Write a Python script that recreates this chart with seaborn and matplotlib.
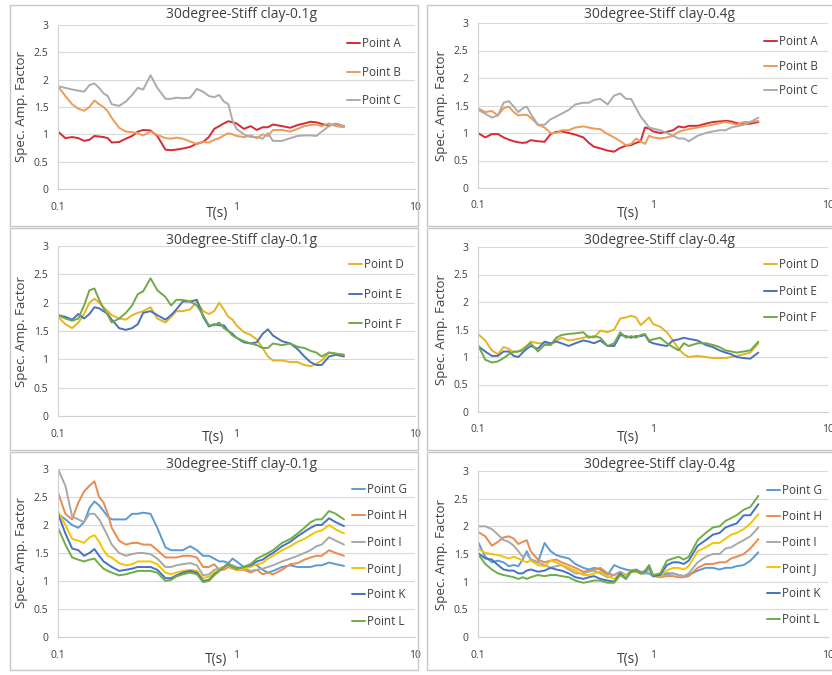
import pandas as pd
import seaborn as sns
import matplotlib.pyplot as plt
from matplotlib.patches import Rectangle

# period axis (s) shared by all curves
T = [0.1, 0.11, 0.12, 0.13, 0.14, 0.15, 0.16, 0.17, 0.18, 0.19,
     0.2, 0.22, 0.24, 0.26, 0.28, 0.3, 0.33, 0.36, 0.4, 0.43, 0.46,
     0.5, 0.55, 0.6, 0.65, 0.7, 0.75, 0.8, 0.85, 0.9, 0.95,
     1.0, 1.1, 1.2, 1.3, 1.4, 1.5, 1.6, 1.8,
     2.0, 2.2, 2.4, 2.6, 2.8, 3.0, 3.3, 3.6, 4.0]

# row 1, 0.1g
TL_A = [1.05, 0.93, 0.95, 0.93, 0.88, 0.90, 0.97, 0.96, 0.95, 0.93,
        0.85, 0.86, 0.92, 0.97, 1.05, 1.08, 1.07, 0.97, 0.72, 0.71, 0.72,
        0.74, 0.77, 0.83, 0.86, 0.95, 1.10, 1.15, 1.20, 1.24, 1.22,
        1.20, 1.10, 1.15, 1.08, 1.13, 1.13, 1.18, 1.15,
        1.12, 1.17, 1.20, 1.23, 1.22, 1.19, 1.16, 1.19, 1.15]
TL_B = [1.88, 1.70, 1.55, 1.47, 1.43, 1.50, 1.62, 1.55, 1.50, 1.42,
        1.30, 1.12, 1.05, 1.04, 1.02, 0.98, 1.05, 0.99, 0.93, 0.92, 0.94,
        0.92, 0.87, 0.82, 0.86, 0.85, 0.90, 0.93, 0.98, 1.02, 1.00,
        0.97, 0.95, 0.98, 0.93, 1.00, 0.97, 1.08, 1.08,
        1.05, 1.10, 1.15, 1.17, 1.18, 1.15, 1.20, 1.15, 1.13]
TL_C = [1.88, 1.85, 1.82, 1.80, 1.78, 1.90, 1.93, 1.85, 1.75, 1.70,
        1.55, 1.52, 1.60, 1.72, 1.85, 1.82, 2.08, 1.85, 1.65, 1.65, 1.67,
        1.66, 1.67, 1.83, 1.78, 1.70, 1.68, 1.72, 1.60, 1.55, 1.25,
        1.10, 1.00, 0.95, 0.95, 0.92, 1.02, 0.88, 0.88,
        0.93, 0.97, 0.98, 0.98, 0.97, 1.05, 1.15, 1.20, 1.15]

# row 1, 0.4g
TR_A = [1.00, 0.92, 0.98, 0.98, 0.92, 0.88, 0.85, 0.83, 0.82, 0.83,
        0.87, 0.85, 0.84, 0.98, 1.02, 1.03, 1.00, 0.97, 0.92, 0.82, 0.75,
        0.72, 0.68, 0.66, 0.73, 0.77, 0.78, 0.82, 0.85, 1.10, 1.08,
        1.03, 1.00, 1.02, 1.05, 1.12, 1.10, 1.13, 1.13,
        1.17, 1.20, 1.21, 1.22, 1.21, 1.18, 1.16, 1.17, 1.20]
TR_B = [1.45, 1.38, 1.40, 1.32, 1.45, 1.48, 1.38, 1.32, 1.33, 1.33,
        1.28, 1.15, 1.10, 1.00, 1.00, 1.05, 1.05, 1.10, 1.12, 1.10, 1.08,
        1.07, 0.98, 0.92, 0.85, 0.78, 0.80, 0.90, 0.85, 0.80, 0.95,
        0.92, 0.90, 0.92, 0.95, 1.02, 1.05, 1.07, 1.10,
        1.13, 1.15, 1.18, 1.20, 1.18, 1.15, 1.20, 1.20, 1.22]
TR_C = [1.42, 1.35, 1.28, 1.32, 1.55, 1.58, 1.48, 1.38, 1.45, 1.48,
        1.35, 1.15, 1.15, 1.25, 1.30, 1.35, 1.42, 1.52, 1.55, 1.55, 1.60,
        1.62, 1.52, 1.68, 1.72, 1.62, 1.62, 1.45, 1.30, 1.20, 1.10,
        1.08, 1.05, 1.00, 0.95, 0.90, 0.90, 0.85, 0.95,
        1.00, 1.03, 1.05, 1.05, 1.10, 1.12, 1.15, 1.20, 1.28]

# row 2, 0.1g
ML_D = [1.75, 1.62, 1.55, 1.65, 1.80, 2.00, 2.07, 2.00, 1.92, 1.85,
        1.78, 1.72, 1.70, 1.78, 1.82, 1.85, 1.92, 1.72, 1.65, 1.75, 1.85,
        1.85, 1.88, 2.02, 1.85, 1.80, 1.85, 2.00, 1.88, 1.75, 1.70,
        1.60, 1.48, 1.43, 1.35, 1.20, 1.05, 0.98, 0.98,
        0.95, 0.95, 0.90, 0.88, 0.92, 0.98, 1.12, 1.10, 1.08]
ML_E = [1.78, 1.75, 1.70, 1.80, 1.72, 1.80, 1.92, 1.90, 1.85, 1.80,
        1.70, 1.55, 1.52, 1.55, 1.62, 1.82, 1.85, 1.78, 1.70, 1.78, 1.88,
        2.02, 2.02, 2.05, 1.75, 1.58, 1.62, 1.60, 1.60, 1.50, 1.45,
        1.38, 1.30, 1.28, 1.30, 1.45, 1.53, 1.42, 1.32,
        1.28, 1.18, 1.05, 0.95, 0.90, 0.90, 1.05, 1.08, 1.05]
ML_F = [1.78, 1.72, 1.68, 1.72, 1.95, 2.22, 2.25, 2.05, 1.90, 1.78,
        1.65, 1.72, 1.82, 1.95, 2.15, 2.20, 2.43, 2.22, 2.10, 1.95, 2.05,
        2.05, 2.02, 1.95, 1.78, 1.60, 1.60, 1.65, 1.55, 1.50, 1.42,
        1.38, 1.32, 1.28, 1.25, 1.20, 1.20, 1.28, 1.25,
        1.28, 1.22, 1.20, 1.15, 1.12, 1.05, 1.12, 1.10, 1.08]

# row 2, 0.4g
MR_D = [1.42, 1.30, 1.12, 1.05, 1.18, 1.15, 1.08, 1.10, 1.15, 1.20,
        1.28, 1.25, 1.25, 1.22, 1.30, 1.35, 1.30, 1.32, 1.35, 1.38, 1.35,
        1.48, 1.45, 1.50, 1.70, 1.72, 1.75, 1.72, 1.58, 1.65, 1.72,
        1.60, 1.55, 1.45, 1.30, 1.15, 1.05, 1.00, 1.02,
        1.00, 0.98, 0.98, 0.98, 1.00, 1.02, 1.05, 1.08, 1.25]
MR_E = [1.20, 1.10, 1.02, 1.02, 1.10, 1.10, 1.02, 1.00, 1.08, 1.15,
        1.20, 1.15, 1.28, 1.25, 1.28, 1.25, 1.20, 1.25, 1.30, 1.28, 1.25,
        1.30, 1.20, 1.20, 1.40, 1.38, 1.35, 1.38, 1.38, 1.40, 1.28,
        1.25, 1.22, 1.20, 1.30, 1.32, 1.35, 1.33, 1.30,
        1.22, 1.18, 1.12, 1.08, 1.05, 1.00, 0.98, 0.97, 1.08]
MR_F = [1.22, 0.95, 0.90, 0.92, 0.98, 1.05, 1.10, 1.10, 1.12, 1.20,
        1.25, 1.10, 1.22, 1.22, 1.35, 1.40, 1.42, 1.43, 1.45, 1.35, 1.38,
        1.35, 1.20, 1.25, 1.45, 1.35, 1.38, 1.35, 1.40, 1.42, 1.30,
        1.32, 1.35, 1.25, 1.18, 1.12, 1.25, 1.20, 1.25,
        1.25, 1.22, 1.18, 1.12, 1.10, 1.08, 1.10, 1.12, 1.28]

# row 3, 0.1g
BL_G = [2.20, 2.10, 2.00, 1.95, 2.05, 2.30, 2.42, 2.35, 2.25, 2.15,
        2.10, 2.10, 2.10, 2.20, 2.20, 2.22, 2.20, 1.95, 1.60, 1.55, 1.55,
        1.55, 1.62, 1.55, 1.45, 1.45, 1.40, 1.35, 1.35, 1.32, 1.40,
        1.35, 1.25, 1.30, 1.28, 1.20, 1.15, 1.18, 1.25,
        1.28, 1.25, 1.25, 1.25, 1.28, 1.28, 1.33, 1.30, 1.27]
BL_H = [2.58, 2.20, 2.10, 2.40, 2.60, 2.70, 2.78, 2.50, 2.40, 2.20,
        1.95, 1.72, 1.65, 1.68, 1.68, 1.65, 1.65, 1.55, 1.42, 1.42, 1.42,
        1.45, 1.45, 1.42, 1.25, 1.25, 1.30, 1.20, 1.20, 1.25, 1.22,
        1.20, 1.20, 1.15, 1.20, 1.12, 1.15, 1.12, 1.20,
        1.30, 1.32, 1.38, 1.42, 1.45, 1.45, 1.55, 1.50, 1.45]
BL_I = [3.00, 2.70, 2.15, 2.10, 2.05, 2.20, 2.20, 2.10, 1.95, 1.80,
        1.65, 1.50, 1.45, 1.48, 1.50, 1.50, 1.48, 1.40, 1.25, 1.25, 1.28,
        1.30, 1.32, 1.28, 1.10, 1.12, 1.20, 1.22, 1.25, 1.30, 1.28,
        1.25, 1.22, 1.18, 1.20, 1.22, 1.25, 1.28, 1.35,
        1.40, 1.45, 1.50, 1.55, 1.62, 1.65, 1.78, 1.72, 1.65]
BL_J = [2.25, 2.00, 1.75, 1.72, 1.68, 1.78, 1.82, 1.70, 1.55, 1.45,
        1.42, 1.32, 1.28, 1.30, 1.35, 1.35, 1.35, 1.30, 1.15, 1.12, 1.15,
        1.18, 1.20, 1.18, 1.05, 1.08, 1.15, 1.20, 1.25, 1.28, 1.22,
        1.20, 1.22, 1.25, 1.30, 1.32, 1.40, 1.45, 1.55,
        1.62, 1.70, 1.75, 1.82, 1.88, 1.90, 2.00, 1.92, 1.85]
BL_K = [2.20, 1.85, 1.58, 1.55, 1.45, 1.50, 1.57, 1.45, 1.35, 1.30,
        1.25, 1.18, 1.20, 1.22, 1.25, 1.25, 1.25, 1.20, 1.05, 1.05, 1.10,
        1.15, 1.18, 1.15, 1.00, 1.02, 1.12, 1.18, 1.25, 1.30, 1.25,
        1.22, 1.25, 1.28, 1.35, 1.38, 1.45, 1.50, 1.62,
        1.70, 1.80, 1.88, 1.95, 2.00, 2.00, 2.12, 2.05, 1.98]
BL_L = [1.95, 1.65, 1.42, 1.38, 1.35, 1.38, 1.40, 1.30, 1.22, 1.18,
        1.15, 1.10, 1.12, 1.15, 1.18, 1.18, 1.18, 1.15, 1.00, 1.02, 1.08,
        1.12, 1.15, 1.12, 0.98, 1.00, 1.10, 1.18, 1.25, 1.32, 1.25,
        1.22, 1.25, 1.30, 1.40, 1.45, 1.50, 1.55, 1.68,
        1.75, 1.85, 1.95, 2.05, 2.10, 2.10, 2.25, 2.20, 2.10]

# row 3, 0.4g
BR_G = [1.72, 1.45, 1.35, 1.38, 1.35, 1.28, 1.30, 1.28, 1.40, 1.55,
        1.40, 1.35, 1.70, 1.55, 1.48, 1.45, 1.42, 1.32, 1.25, 1.22, 1.25,
        1.22, 1.12, 1.30, 1.25, 1.22, 1.20, 1.22, 1.18, 1.15, 1.15,
        1.10, 1.12, 1.15, 1.15, 1.12, 1.10, 1.12, 1.20,
        1.25, 1.25, 1.22, 1.25, 1.25, 1.28, 1.30, 1.38, 1.53]
BR_H = [1.90, 1.82, 1.65, 1.72, 1.80, 1.82, 1.78, 1.68, 1.72, 1.75,
        1.55, 1.40, 1.35, 1.38, 1.40, 1.35, 1.30, 1.25, 1.18, 1.20, 1.22,
        1.25, 1.15, 1.12, 1.18, 1.10, 1.18, 1.20, 1.15, 1.15, 1.25,
        1.10, 1.08, 1.10, 1.10, 1.08, 1.08, 1.10, 1.25,
        1.32, 1.32, 1.35, 1.35, 1.42, 1.45, 1.50, 1.60, 1.77]
BR_I = [2.00, 2.00, 1.95, 1.85, 1.75, 1.72, 1.65, 1.55, 1.45, 1.50,
        1.40, 1.35, 1.30, 1.25, 1.28, 1.30, 1.22, 1.15, 1.15, 1.18, 1.20,
        1.15, 1.08, 1.12, 1.18, 1.12, 1.20, 1.18, 1.15, 1.15, 1.22,
        1.12, 1.08, 1.12, 1.15, 1.12, 1.10, 1.15, 1.35,
        1.45, 1.50, 1.50, 1.60, 1.62, 1.68, 1.75, 1.82, 1.98]
BR_J = [1.60, 1.52, 1.50, 1.48, 1.45, 1.42, 1.45, 1.42, 1.38, 1.35,
        1.38, 1.30, 1.28, 1.38, 1.35, 1.30, 1.25, 1.20, 1.12, 1.12, 1.15,
        1.18, 1.10, 1.05, 1.15, 1.10, 1.18, 1.18, 1.15, 1.18, 1.25,
        1.10, 1.10, 1.20, 1.25, 1.25, 1.22, 1.28, 1.55,
        1.62, 1.70, 1.70, 1.78, 1.85, 1.88, 1.95, 2.05, 2.22]
BR_K = [1.52, 1.42, 1.40, 1.30, 1.22, 1.20, 1.20, 1.15, 1.15, 1.20,
        1.22, 1.18, 1.20, 1.25, 1.22, 1.20, 1.15, 1.08, 1.05, 1.08, 1.10,
        1.05, 1.02, 1.00, 1.15, 1.05, 1.18, 1.20, 1.15, 1.18, 1.28,
        1.10, 1.12, 1.30, 1.35, 1.35, 1.32, 1.38, 1.65,
        1.75, 1.85, 1.88, 1.98, 2.02, 2.05, 2.20, 2.20, 2.40]
BR_L = [1.50, 1.32, 1.22, 1.15, 1.12, 1.10, 1.08, 1.05, 1.08, 1.05,
        1.08, 1.12, 1.10, 1.12, 1.12, 1.10, 1.08, 1.02, 0.98, 1.00, 1.02,
        1.02, 0.98, 0.98, 1.12, 1.05, 1.20, 1.20, 1.15, 1.20, 1.30,
        1.12, 1.15, 1.38, 1.42, 1.45, 1.40, 1.45, 1.75,
        1.88, 1.98, 2.00, 2.10, 2.15, 2.20, 2.30, 2.35, 2.55]

TITLE_01 = "30degree-Stiff clay-0.1g"
TITLE_04 = "30degree-Stiff clay-0.4g"
ABC = ["Point A", "Point B", "Point C"]
DEF = ["Point D", "Point E", "Point F"]
GL = ["Point G", "Point H", "Point I", "Point J", "Point K", "Point L"]

COLORS_ABC = ["#D62A36", "#EE9B55", "#ABABAB"]
COLORS_DEF = ["#E6B322", "#4A72B8", "#72A84A"]
COLORS_GL = ["#5B9BD5", "#E98B4E", "#A8A8A8", "#F5C400", "#4472C4", "#6FAD47"]

W, H = 832, 675
TXT = "#404040"


def px_rect(x0, y0, x1, y1):
    return [x0 / W, 1 - y1 / H, (x1 - x0) / W, (y1 - y0) / H]


def long_frame(labels, series):
    rows = []
    for lab, vals in zip(labels, series):
        rows.append(pd.DataFrame({"T": T, "SA": vals, "Point": lab}))
    return pd.concat(rows, ignore_index=True)


# frame box, plot box, title centre, xlabel centre, legend top-left, entry spacing
panels = [
    (TITLE_01, ABC, [TL_A, TL_B, TL_C], COLORS_ABC,
     (10, 5, 418, 226), (58, 25, 415, 189), (242, 14), (217, 214), (347, 37), 1.33),
    (TITLE_04, ABC, [TR_A, TR_B, TR_C], COLORS_ABC,
     (427, 5, 845, 226), (478, 23, 828, 188), (660, 15), (628, 213), (764, 35), 0.99),
    (TITLE_01, DEF, [ML_D, ML_E, ML_F], COLORS_DEF,
     (10, 228, 418, 450), (58, 246, 415, 416), (242, 240), (213, 438), (349, 258), 1.42),
    (TITLE_04, DEF, [MR_D, MR_E, MR_F], COLORS_DEF,
     (427, 228, 845, 450), (478, 247, 828, 412), (660, 240), (628, 437), (764, 258), 1.16),
    (TITLE_01, GL, [BL_G, BL_H, BL_I, BL_J, BL_K, BL_L], COLORS_GL,
     (10, 452, 418, 670), (58, 469, 415, 637), (242, 465), (216, 660), (352, 483), 1.13),
    (TITLE_04, GL, [BR_G, BR_H, BR_I, BR_J, BR_K, BR_L], COLORS_GL,
     (427, 452, 845, 670), (478, 471, 828, 637), (660, 465), (628, 660), (767, 484), 1.09),
]

sns.set_style("white")
plt.rcParams["font.family"] = ["Open Sans", "DejaVu Sans"]

fig = plt.figure(figsize=(W / 100, H / 100), dpi=100)

for title, labels, series, colors, frame, box, t_xy, xl_xy, lg_xy, spacing in panels:
    fx0, fy0, fx1, fy1 = frame
    fig.patches.append(Rectangle((fx0 / W, 1 - fy1 / H), (fx1 - fx0) / W, (fy1 - fy0) / H,
                                 transform=fig.transFigure, fill=False,
                                 edgecolor="#C8C8C8", linewidth=1.0))

    ax = fig.add_axes(px_rect(*box))
    df = long_frame(labels, series)
    sns.lineplot(data=df, x="T", y="SA", hue="Point", palette=colors,
                 estimator=None, sort=False, linewidth=1.4, ax=ax)

    ax.set_xscale("log")
    ax.set_xlim(0.1, 10)
    ax.set_ylim(0, 3)
    ax.set_xticks([0.1, 1, 10])
    ax.set_xticklabels(["0.1", "1", "10"])
    ax.set_yticks([0, 0.5, 1, 1.5, 2, 2.5, 3])
    ax.set_yticklabels(["0", "0.5", "1", "1.5", "2", "2.5", "3"])
    ax.minorticks_off()
    ax.tick_params(length=0, labelsize=7.5, labelcolor=TXT)
    ax.tick_params(axis="x", pad=9)
    ax.tick_params(axis="y", pad=7)
    ax.yaxis.grid(True, color="#D9D9D9", linewidth=0.8)
    ax.xaxis.grid(False)
    for side in ["top", "right"]:
        ax.spines[side].set_visible(False)
    for side in ["left", "bottom"]:
        ax.spines[side].set_color("#D0D0D0")
        ax.spines[side].set_linewidth(0.8)

    ax.set_xlabel("")
    ax.set_ylabel("Spec. Amp. Factor", fontsize=9.5, color=TXT, labelpad=4)

    fig.text(t_xy[0] / W, 1 - t_xy[1] / H, title, ha="center", va="center",
             fontsize=10, color=TXT)
    fig.text(xl_xy[0] / W, 1 - xl_xy[1] / H, "T(s)", ha="center", va="center",
             fontsize=10, color=TXT)

    ax.legend(loc="upper left", bbox_to_anchor=(lg_xy[0] / W, 1 - lg_xy[1] / H),
              bbox_transform=fig.transFigure, frameon=False, fontsize=8.5,
              handlelength=1.1, handletextpad=0.15, labelspacing=spacing,
              borderpad=0, borderaxespad=0, labelcolor=TXT)

fig.savefig("out.png", dpi=100)
plt.close(fig)
